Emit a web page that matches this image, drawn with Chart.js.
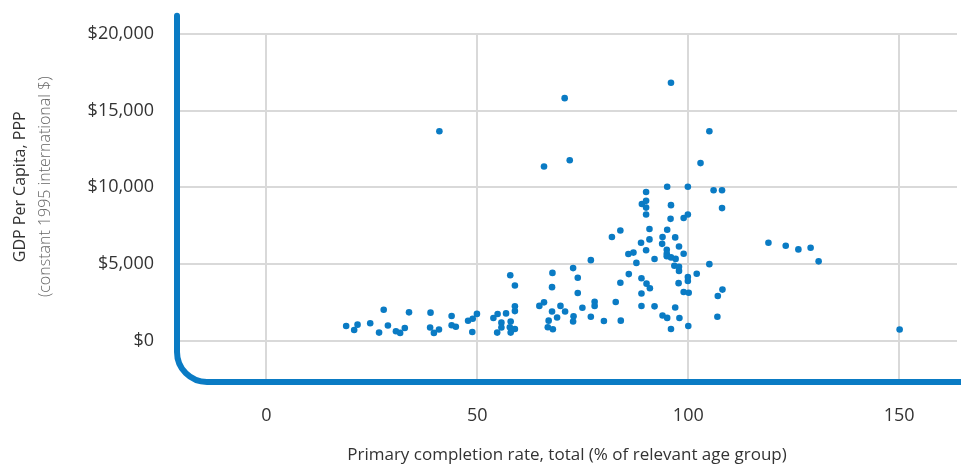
<!DOCTYPE html>
<html>
<head>
<meta charset="utf-8">
<title>GDP per capita vs primary completion rate</title>
<script src="https://cdn.jsdelivr.net/npm/chart.js@4.4.1/dist/chart.umd.min.js"></script>
<style>
    html, body { margin: 0; padding: 0; background: #fff; }
</style>
</head>
<body>
<canvas id="scatterChart" width="961" height="466"></canvas>
<script>

// primary completion rate, total (% of relevant age group)
const completionRate = [
    18.9, 20.8, 21.6, 24.6, 26.7, 27.8, 28.8, 30.7, 31.7, 32.8,
    33.8, 38.8, 38.9, 39.7, 40.9, 41.0, 43.9, 43.9, 44.9, 47.8,
    48.8, 48.9, 49.9, 53.8, 54.7, 54.8, 55.7, 55.7, 56.8, 57.7,
    57.8, 57.9, 57.9, 58.9, 58.9, 58.9, 58.9, 64.7, 65.8, 65.8,
    66.7, 66.9, 67.7, 67.7, 67.8, 67.9, 68.9, 69.7, 70.7, 70.8,
    71.9, 72.7, 72.7, 72.8, 73.8, 73.8, 74.9, 76.9, 76.9, 77.8,
    77.8, 80.0, 81.9, 82.8, 83.9, 83.9, 84.0, 85.8, 85.9, 87.0,
    87.7, 88.8, 88.9, 88.9, 88.9, 89.0, 90.0, 90.0, 90.0, 90.0,
    90.0, 90.1, 90.8, 90.8, 90.9, 92.0, 92.0, 93.8, 93.9, 93.9,
    94.9, 94.9, 94.9, 95.0, 95.0, 95.0, 95.8, 95.9, 95.9, 95.9,
    95.9, 96.7, 96.9, 96.9, 97.0, 97.7, 97.8, 97.8, 97.8, 97.9,
    98.9, 98.9, 98.9, 99.9, 99.9, 99.9, 99.9, 100.0, 100.1, 102.0,
    102.9, 105.0, 105.0, 106.0, 106.9, 107.0, 108.0, 108.0, 108.1, 119.0,
    123.1, 126.1, 129.0, 130.9, 150.1
]

// GDP per capita, PPP (constant 1995 international $)
const gdpPerCapita = [
    970, 710, 1060, 1150, 540, 2030, 1000, 630, 520, 840,
    1860, 870, 1840, 520, 740, 13650, 1620, 1020, 920, 1310,
    580, 1440, 1760, 1490, 540, 1750, 1190, 870, 1790, 890,
    4280, 1260, 540, 780, 1940, 2250, 3610, 2280, 2510, 11360,
    890, 1320, 1920, 3500, 4430, 760, 1520, 2280, 15810, 1920,
    11770, 4740, 1260, 1600, 4110, 3120, 2160, 5260, 1570, 2550,
    2280, 1300, 6770, 2530, 7190, 3790, 1320, 5660, 4350, 5750,
    5080, 6390, 4080, 3090, 2270, 8920, 9700, 9120, 8680, 8230,
    5900, 3730, 7290, 6610, 3430, 5330, 2250, 6320, 6760, 1650,
    5930, 5670, 5510, 10040, 7240, 1500, 7950, 16810, 8840, 5440,
    780, 4890, 6740, 2180, 5340, 3760, 6150, 4830, 4560, 1490,
    8000, 5680, 3190, 10040, 8230, 4160, 3900, 970, 3140, 4370,
    11580, 13650, 5000, 9810, 1570, 2920, 9810, 8650, 3340, 6390,
    6200, 5960, 6070, 5180, 740
]

const xTicks = [0, 50, 100, 150]
const yTicks = [0, 5000, 10000, 15000, 20000]

const BLUE = "#0a7bc4"
const GRID = "#d9d9d9"
const TEXT = "#333333"
const FONT = "'Open Sans', 'Noto Sans', sans-serif"

// blue L-shaped frame with a rounded corner, plus the two-line y title
const framePlugin = {

    id: "frame",

    beforeDatasetsDraw(chart) {

        const { ctx, chartArea } = chart
        const r = 30

        ctx.save()
        ctx.strokeStyle = BLUE
        ctx.lineWidth = 6
        ctx.lineCap = "round"
        ctx.beginPath()
        ctx.moveTo(chartArea.left, chartArea.top - 18)
        ctx.lineTo(chartArea.left, chartArea.bottom - r)
        ctx.arcTo(chartArea.left, chartArea.bottom, chartArea.left + r, chartArea.bottom, r)
        ctx.lineTo(chart.width + 10, chartArea.bottom)
        ctx.stroke()
        ctx.restore()

    },

    afterDraw(chart) {

        const { ctx, chartArea } = chart
        const cy = chartArea.top + 153

        ctx.save()
        ctx.translate(20, cy)
        ctx.rotate(-Math.PI / 2)
        ctx.textAlign = "center"
        ctx.textBaseline = "middle"
        ctx.fillStyle = TEXT
        ctx.font = "16px " + FONT
        ctx.fillText("GDP Per Capita, PPP", 0, 0)
        ctx.fillStyle = "#666666"
        ctx.font = "300 16px " + FONT
        ctx.fillText("(constant 1995 international $)", 0, 25)
        ctx.restore()

    }

}

const points = completionRate.map((x, i) => ({ x: x, y: gdpPerCapita[i] }))

new Chart(document.getElementById("scatterChart"), {

    type: "scatter",

    data: {
        datasets: [
            {
                label: "Countries",
                data: points,
                pointRadius: 3.3,
                pointHoverRadius: 4,
                borderWidth: 0,
                backgroundColor: BLUE
            }
        ]
    },

    options: {

        responsive: false,
        animation: false,

        layout: {
            padding: { top: 32, left: 0, right: 0, bottom: 0 }
        },

        plugins: {
            legend: { display: false },
            tooltip: { enabled: false }
        },

        scales: {

            x: {
                type: "linear",
                min: -21.2,
                max: 163.7,
                afterBuildTicks(scale) {
                    scale.ticks = xTicks.map(v => ({ value: v }))
                },
                afterFit(scale) {
                    scale.height = 84
                },
                border: { display: false },
                grid: {
                    color: GRID,
                    lineWidth: 2,
                    drawTicks: false
                },
                ticks: {
                    color: TEXT,
                    padding: 23,
                    font: { family: FONT, size: 18 }
                },
                title: {
                    display: true,
                    text: "Primary completion rate, total (% of relevant age group)",
                    color: TEXT,
                    font: { family: FONT, size: 17 },
                    padding: { top: 0, bottom: 1 }
                }
            },

            y: {
                type: "linear",
                min: -2676,
                max: 20000,
                afterBuildTicks(scale) {
                    scale.ticks = yTicks.map(v => ({ value: v }))
                },
                afterFit(scale) {
                    scale.width = 177
                },
                border: { display: false },
                grid: {
                    color: GRID,
                    lineWidth: 2,
                    drawTicks: false
                },
                ticks: {
                    color: TEXT,
                    padding: 23,
                    font: { family: FONT, size: 18 },
                    callback: v => "$" + Number(v).toLocaleString("en-US")
                }
            }

        }

    },

    plugins: [framePlugin]

})

</script>
</body>
</html>
